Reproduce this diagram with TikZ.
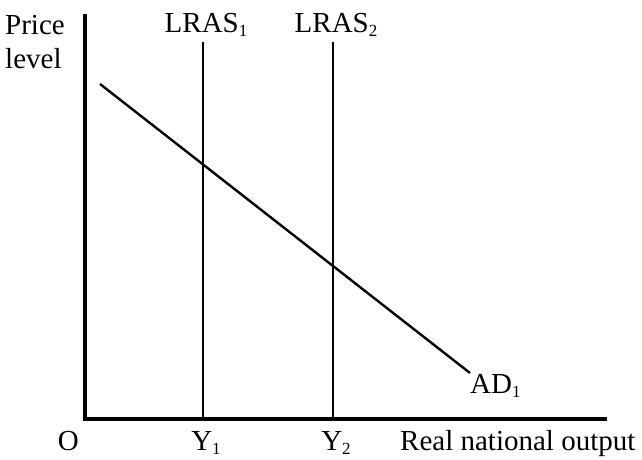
\documentclass[tikz,border=0pt]{standalone}
\usepackage{fontspec}
\setmainfont{Liberation Serif}
\newcommand{\lowidx}[1]{\raisebox{-4pt}{\fontsize{17}{17}\selectfont #1}}
\tikzset{
  lbl/.style={font=\fontsize{29}{33}\selectfont, inner sep=0pt},
  axisline/.style={line width=3.6pt},
  curve/.style={line width=2.4pt}
}
\begin{document}
\begin{tikzpicture}[x=1pt, y=-1pt]
  \useasboundingbox (0,0) rectangle (642,460);

  % axes
  \coordinate (O) at (85,419);
  \coordinate (ytop) at (85,16);
  \coordinate (xend) at (605,419);
  \draw[axisline, line cap=rect] (ytop) -- (O) -- (xend);
  \node[lbl, anchor=base west] (plabel) at (5,35) {Price};
  \node[lbl, anchor=base west] (llabel) at (5,68) {level};
  \node[lbl, anchor=base east] (olabel) at (79,450) {O};
  \node[lbl, anchor=base west] (xlabel) at (400,450) {Real national output};

  % long-run supply curves
  \coordinate (lras1top) at (203,42);
  \coordinate (lras2top) at (333,42);
  \draw[line width=2pt] (lras1top) -- (lras1top |- O);
  \draw[line width=2.6pt] (lras2top) -- (lras2top |- O);
  \node[lbl, anchor=base] (lras1) at (206,33) {LRAS\lowidx{1}};
  \node[lbl, anchor=base] (lras2) at (336,33) {LRAS\lowidx{2}};
  \node[lbl, anchor=base] (y1) at (206,450) {Y\lowidx{1}};
  \node[lbl, anchor=base] (y2) at (336,450) {Y\lowidx{2}};

  % aggregate demand
  \coordinate (adstart) at (100,84);
  \coordinate (adend) at (470,373);
  \draw[curve] (adstart) -- (adend);
  \node[lbl, anchor=base west] (ad1) at (470,393) {AD\lowidx{1}};
\end{tikzpicture}
\end{document}
